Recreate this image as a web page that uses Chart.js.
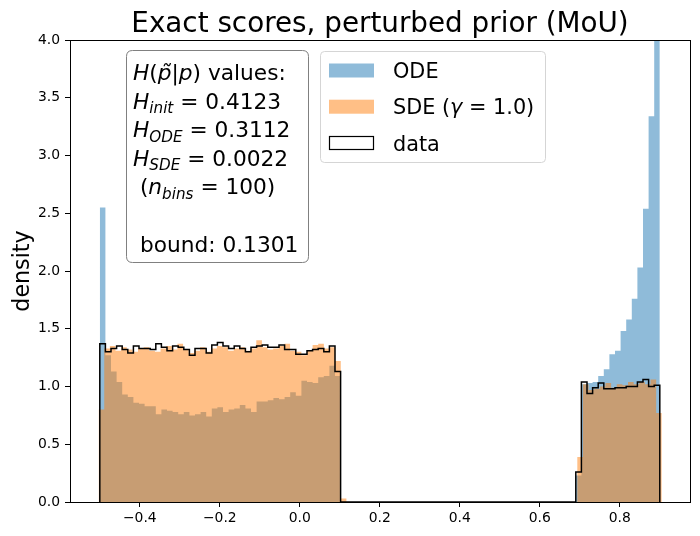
<!DOCTYPE html>
<html><head><meta charset="utf-8">
<script src="https://cdn.jsdelivr.net/npm/chart.js@4.4.1/dist/chart.umd.min.js"></script>
<style>html,body{margin:0;padding:0;background:#fff;}#wrap{width:700px;height:536px;}</style>
</head><body><div id="wrap"><canvas id="c" width="700" height="536"></canvas></div>
<script>
// ---------- data ----------
const nBins = 100;
const odeRange = [-0.5, 0.9];
const sdeRange = [-0.503, 0.905];
const dataRange = [-0.5, 0.9];

const odeDensity = [
 2.55,1.27,1.13,1.04,0.93,0.91,0.86,0.85,0.83,0.83,
 0.76,0.80,0.79,0.78,0.76,0.78,0.75,0.76,0.78,0.74,
 0.81,0.82,0.78,0.80,0.81,0.84,0.81,0.78,0.87,0.87,
 0.88,0.90,0.89,0.91,0.95,0.92,1.05,1.04,1.03,1.08,
 1.09,1.18,1.09,0,0,0,0,0,0,0,
 0,0,0,0,0,0,0,0,0,0,
 0,0,0,0,0,0,0,0,0,0,
 0,0,0,0,0,0,0,0,0,0,
 0,0,0,0,0,0.23,1.02,1.03,1.04,1.09,
 1.15,1.28,1.31,1.48,1.58,1.76,2.03,2.54,3.34,11.3
];
const sdeDensity = [
 0.80,1.33,1.35,1.31,1.34,1.32,1.30,1.33,1.34,1.31,
 1.30,1.33,1.35,1.32,1.37,1.32,1.29,1.31,1.34,1.30,
 1.33,1.35,1.34,1.31,1.33,1.34,1.31,1.33,1.40,1.34,
 1.32,1.33,1.35,1.37,1.31,1.30,1.27,1.31,1.36,1.37,
 1.33,1.34,1.22,0.03,0,0,0,0,0,0,
 0,0,0,0,0,0,0,0,0,0,
 0,0,0,0,0,0,0,0,0,0,
 0,0,0,0,0,0,0,0,0,0,
 0,0,0,0,0,0.39,1.02,0.97,0.98,1.00,
 1.03,0.99,1.02,1.01,1.04,1.02,1.04,1.02,1.06,0.77
];
const dataDensity = [
 1.37,1.30,1.33,1.35,1.32,1.29,1.35,1.33,1.33,1.32,
 1.37,1.34,1.31,1.35,1.34,1.32,1.27,1.33,1.33,1.29,
 1.36,1.38,1.35,1.33,1.35,1.33,1.30,1.34,1.35,1.36,
 1.34,1.34,1.36,1.32,1.32,1.28,1.28,1.31,1.32,1.33,
 1.30,1.35,1.13,0,0,0,0,0,0,0,
 0,0,0,0,0,0,0,0,0,0,
 0,0,0,0,0,0,0,0,0,0,
 0,0,0,0,0,0,0,0,0,0,
 0,0,0,0,0,0.26,1.04,0.94,0.99,1.03,
 0.98,0.98,0.99,0.99,1.00,1.00,1.04,1.06,1.00,1.01
];

const xTicks = [-0.4, -0.2, 0.0, 0.2, 0.4, 0.6, 0.8];
const yTicks = [0, 0.5, 1.0, 1.5, 2.0, 2.5, 3.0, 3.5, 4.0];
const xLimits = [-0.5745, 0.9755];
const yLimits = [0, 4];

const titleText = 'Exact scores, perturbed prior (MoU)';
const yLabelText = 'density';
const seriesNames = ['ODE', 'SDE', 'data'];
const gammaValue = '1.0';
const statNames = ['init', 'ODE', 'SDE'];
const statValues = ['0.4123', '0.3112', '0.0022'];
const nBinsText = '100';
const boundText = '0.1301';

// ---------- helpers ----------
function stepPoints(range, vals) {
  const w = (range[1] - range[0]) / vals.length;
  const pts = [{x: range[0], y: 0}];
  vals.forEach((v, i) => pts.push({x: range[0] + i * w, y: v}));
  pts.push({x: range[1], y: 0});
  return pts;
}
const FONT = '"DejaVu Sans", "Liberation Sans", sans-serif';
function rich(ctx, x, y, parts, size) {
  for (const p of parts) {
    const s = p.sub ? size * 0.7 : size;
    ctx.font = (p.it ? 'italic ' : '') + s + 'px ' + FONT;
    const dy = p.sub ? size * 0.2 : 0;
    ctx.fillText(p.t, x, y + dy);
    x += ctx.measureText(p.t).width;
  }
  return x;
}
function roundRect(ctx, x, y, w, h, r) {
  ctx.beginPath();
  ctx.moveTo(x + r, y);
  ctx.lineTo(x + w - r, y);
  ctx.quadraticCurveTo(x + w, y, x + w, y + r);
  ctx.lineTo(x + w, y + h - r);
  ctx.quadraticCurveTo(x + w, y + h, x + w - r, y + h);
  ctx.lineTo(x + r, y + h);
  ctx.quadraticCurveTo(x, y + h, x, y + h - r);
  ctx.lineTo(x, y + r);
  ctx.quadraticCurveTo(x, y, x + r, y);
  ctx.closePath();
}

const decor = {
  id: 'decor',
  afterDraw(chart) {
    const ctx = chart.ctx;
    const a = chart.chartArea;
    ctx.save();
    // spines
    ctx.strokeStyle = '#000';
    ctx.lineWidth = 1;
    ctx.strokeRect(Math.round(a.left) + 0.5, Math.round(a.top) + 0.5,
                   Math.round(a.right - a.left), Math.round(a.bottom - a.top));
    // title
    ctx.fillStyle = '#000';
    ctx.textAlign = 'center';
    ctx.textBaseline = 'alphabetic';
    ctx.font = '27.8px ' + FONT;
    ctx.fillText(titleText, (a.left + a.right) / 2, 31.7);
    // y label
    ctx.save();
    ctx.translate(29, (a.top + a.bottom) / 2);
    ctx.rotate(-Math.PI / 2);
    ctx.font = '22.2px ' + FONT;
    ctx.fillText(yLabelText, 0, 0);
    ctx.restore();

    // text box
    ctx.textAlign = 'left';
    roundRect(ctx, 126.5, 50.5, 182, 212, 6);
    ctx.fillStyle = 'rgba(255,255,255,0.8)';
    ctx.fill();
    ctx.strokeStyle = '#808080';
    ctx.stroke();
    ctx.fillStyle = '#000';
    const fs = 21.7, tx = 133, lh = 28.6, b0 = 80;
    rich(ctx, tx, b0, [
      {t: 'H', it: 1}, {t: '('}, {t: 'p\u0303', it: 1}, {t: '|'}, {t: 'p', it: 1}, {t: ')'},
      {t: ' values:'}], fs);
    for (let i = 0; i < 3; i++) {
      rich(ctx, tx, b0 + lh * (i + 1), [
        {t: 'H', it: 1}, {t: statNames[i], it: 1, sub: 1}, {t: ' = ' + statValues[i]}], fs);
    }
    rich(ctx, tx, b0 + lh * 4, [
      {t: ' ('}, {t: 'n', it: 1}, {t: 'bins', it: 1, sub: 1}, {t: ' = ' + nBinsText + ')'}], fs);
    rich(ctx, tx, b0 + lh * 6, [{t: ' bound: ' + boundText}], fs);

    // legend
    roundRect(ctx, 320.5, 51.5, 225, 111, 4);
    ctx.fillStyle = 'rgba(255,255,255,0.8)';
    ctx.fill();
    ctx.strokeStyle = '#d5d5d5';
    ctx.stroke();
    const lfs = 20.8;
    const rows = [70.5, 106.7, 143];
    const fills = ['rgba(31,119,180,0.5)', 'rgba(255,127,14,0.5)', '#fff'];
    for (let i = 0; i < 3; i++) {
      ctx.fillStyle = fills[i];
      ctx.fillRect(329, rows[i] - 7, 45, 14);
      if (i === 2) {
        ctx.strokeStyle = '#000';
        ctx.lineWidth = 1.2;
        ctx.strokeRect(329.5, rows[i] - 6.5, 44, 13);
      }
      ctx.fillStyle = '#000';
      if (i === 1) {
        rich(ctx, 393, rows[i] + 7.5, [{t: seriesNames[1] + ' ('}, {t: '\u03b3', it: 1}, {t: ' = ' + gammaValue + ')'}], lfs);
      } else {
        rich(ctx, 393, rows[i] + 7.5, [{t: seriesNames[i]}], lfs);
      }
    }
    ctx.restore();
  }
};

const fmt = v => (Math.abs(v) < 1e-9 ? '0.0' : (v < 0 ? '\u2212' : '') + Math.abs(v).toFixed(1));

new Chart(document.getElementById('c'), {
  type: 'scatter',
  data: {
    datasets: [
      {label: seriesNames[2], data: stepPoints(dataRange, dataDensity), showLine: true, stepped: true,
       borderColor: '#000', borderWidth: 1.5, fill: false, pointRadius: 0, order: 0},
      {label: seriesNames[1], data: stepPoints(sdeRange, sdeDensity), showLine: true, stepped: true,
       borderColor: 'rgba(0,0,0,0)', borderWidth: 0, backgroundColor: 'rgba(255,127,14,0.5)',
       fill: 'origin', pointRadius: 0, order: 1},
      {label: seriesNames[0], data: stepPoints(odeRange, odeDensity), showLine: true, stepped: true,
       borderColor: 'rgba(0,0,0,0)', borderWidth: 0, backgroundColor: 'rgba(31,119,180,0.5)',
       fill: 'origin', pointRadius: 0, order: 2}
    ]
  },
  options: {
    responsive: false,
    animation: false,
    devicePixelRatio: 1,
    layout: {padding: {left: 0, right: 10, top: 40, bottom: 0}},
    plugins: {legend: {display: false}, title: {display: false}, tooltip: {enabled: false}},
    scales: {
      x: {
        type: 'linear', min: xLimits[0], max: xLimits[1],
        afterFit: s => { s.height = 34; },
        afterBuildTicks: s => { s.ticks = xTicks.map(v => ({value: v})); },
        grid: {display: true, drawOnChartArea: false, drawTicks: true, tickLength: 5, color: '#000', lineWidth: 1},
        border: {display: true, color: '#000', width: 1},
        ticks: {autoSkip: false, maxRotation: 0, padding: 3, color: '#000',
                font: {family: FONT, size: 13.9}, callback: v => fmt(v)}
      },
      y: {
        type: 'linear', min: yLimits[0], max: yLimits[1],
        afterFit: s => { s.width = 70; },
        afterBuildTicks: s => { s.ticks = yTicks.map(v => ({value: v})); },
        grid: {display: true, drawOnChartArea: false, drawTicks: true, tickLength: 5, color: '#000', lineWidth: 1},
        border: {display: true, color: '#000', width: 1},
        ticks: {padding: 5, color: '#000', font: {family: FONT, size: 13.9}, callback: v => v.toFixed(1)}
      }
    }
  },
  plugins: [decor]
});
</script></body></html>
